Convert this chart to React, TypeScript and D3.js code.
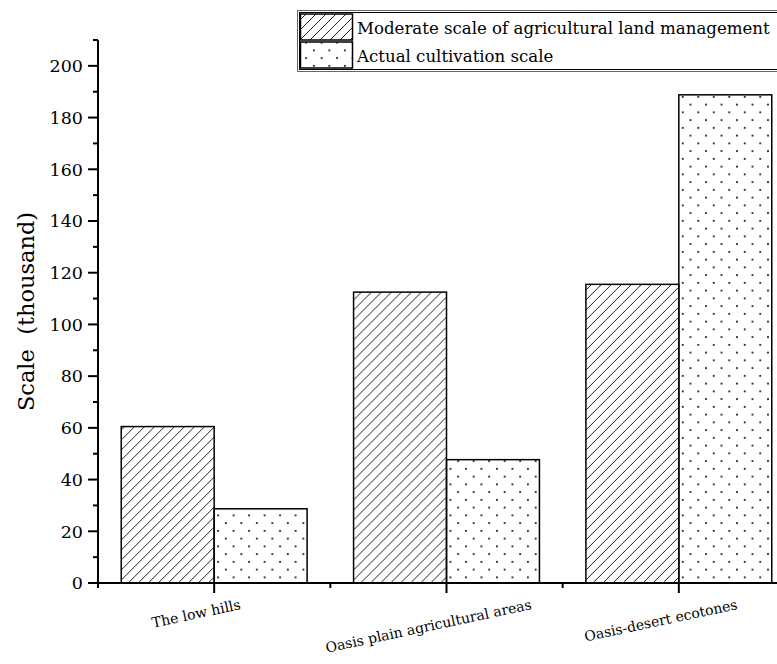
import React, { useEffect, useRef } from 'react';
import * as d3 from 'd3';

// categories along the x axis
const categories = ['The low hills', 'Oasis plain agricultural areas', 'Oasis-desert ecotones'];
// series names (legend order)
const seriesNames = ['Moderate scale of agricultural land management', 'Actual cultivation scale'];
// values in thousand
const moderateScale = [60.5, 112.5, 115.5];
const actualScale = [28.7, 47.7, 188.8];
const yTicks = [0, 20, 40, 60, 80, 100, 120, 140, 160, 180, 200];
const yMinorTicks = [10, 30, 50, 70, 90, 110, 130, 150, 170, 190, 210];

const FONT = '"DejaVu Serif", serif';

const App: React.FC = () => {
  const svgRef = useRef<SVGSVGElement>(null);

  useEffect(() => {
    if (!svgRef.current) return;
    const width = 777;

    const svg = d3.select(svgRef.current);
    svg.selectAll('*').remove();

    // --- patterns ---
    const defs = svg.append('defs');
    const hatch = defs.append('pattern')
      .attr('id', 'hatch').attr('patternUnits', 'userSpaceOnUse')
      .attr('width', 10).attr('height', 10);
    hatch.append('path')
      .attr('d', 'M0,10 L10,0 M-2.5,2.5 L2.5,-2.5 M7.5,12.5 L12.5,7.5')
      .attr('stroke', '#222').attr('stroke-width', 1);

    const dots = defs.append('pattern')
      .attr('id', 'dots').attr('patternUnits', 'userSpaceOnUse')
      .attr('width', 15.5).attr('height', 15.5);
    dots.append('rect').attr('x', 3).attr('y', 3).attr('width', 1.7).attr('height', 1.7).attr('fill', '#000');
    dots.append('rect').attr('x', 10.75).attr('y', 10.75).attr('width', 1.7).attr('height', 1.7).attr('fill', '#000');

    const fills = ['url(#hatch)', 'url(#dots)'];

    // --- scales ---
    const x = d3.scaleBand<string>().domain(categories).range([98, 795]).paddingInner(0.2).paddingOuter(0.1);
    const xSub = d3.scaleBand<string>().domain(seriesNames).range([0, x.bandwidth()]).padding(0);
    const y = d3.scaleLinear().domain([0, 210]).range([583, 40]);

    const rows = categories.map((c, i) => ({ cat: c, values: [moderateScale[i], actualScale[i]] }));

    // --- bars ---
    const groups = svg.append('g').selectAll('g').data(rows).join('g')
      .attr('transform', d => `translate(${x(d.cat)},0)`);
    groups.selectAll('rect')
      .data(d => d.values.map((v, k) => ({ v, k })))
      .join('rect')
      .attr('x', d => xSub(seriesNames[d.k])!)
      .attr('y', d => y(d.v))
      .attr('width', xSub.bandwidth())
      .attr('height', d => y(0) - y(d.v))
      .attr('fill', d => fills[d.k])
      .attr('stroke', '#000').attr('stroke-width', 1.5);

    // --- y axis ---
    const yAxis = svg.append('g').attr('transform', 'translate(98,0)');
    yAxis.append('line').attr('x1', 0).attr('x2', 0).attr('y1', y(210)).attr('y2', y(0) + 5)
      .attr('stroke', '#000').attr('stroke-width', 2);
    yAxis.selectAll('.major').data(yTicks).join('line')
      .attr('x1', -10).attr('x2', 0).attr('y1', d => y(d)).attr('y2', d => y(d))
      .attr('stroke', '#000').attr('stroke-width', 2);
    yAxis.selectAll('.minor').data(yMinorTicks).join('line')
      .attr('x1', -5).attr('x2', 0).attr('y1', d => y(d)).attr('y2', d => y(d))
      .attr('stroke', '#000').attr('stroke-width', 2);
    yAxis.selectAll('text').data(yTicks).join('text')
      .attr('x', -15).attr('y', d => y(d)).attr('dy', '0.36em')
      .attr('text-anchor', 'end').attr('font-family', FONT).attr('font-size', 17.5)
      .text(d => d);

    svg.append('text')
      .attr('transform', `translate(34,${y(105)}) rotate(-90)`)
      .attr('text-anchor', 'middle').attr('font-family', FONT).attr('font-size', 22.5)
      .style('white-space', 'pre')
      .text('Scale  (thousand)');

    // --- x axis ---
    const xAxis = svg.append('g').attr('transform', `translate(0,${y(0)})`);
    xAxis.append('line').attr('x1', 88).attr('x2', width + 20).attr('y1', 0).attr('y2', 0)
      .attr('stroke', '#000').attr('stroke-width', 2);
    xAxis.selectAll('.major').data(categories).join('line')
      .attr('x1', d => x(d)! + x.bandwidth() / 2).attr('x2', d => x(d)! + x.bandwidth() / 2)
      .attr('y1', 0).attr('y2', 10)
      .attr('stroke', '#000').attr('stroke-width', 2);
    const step = x.step();
    const minorX = categories.slice(1).map(c => x(c)! - (step - x.bandwidth()) / 2);
    xAxis.selectAll('.minor').data(minorX).join('line')
      .attr('x1', d => d).attr('x2', d => d).attr('y1', 0).attr('y2', 5)
      .attr('stroke', '#000').attr('stroke-width', 2);

    // rotated labels: right ends sit on one line, centres a bit left of the tick
    const angle = -12;
    const rad = (angle * Math.PI) / 180;
    xAxis.selectAll('text').data(categories).join('text')
      .attr('text-anchor', 'end').attr('font-family', FONT).attr('font-size', 14)
      .text(d => d)
      .attr('transform', function (d) {
        const len = (this as SVGTextElement).getComputedTextLength();
        const cx = x(d)! + x.bandwidth() / 2 - 17;
        return `translate(${cx + (len / 2) * Math.cos(rad)},26) rotate(${angle})`;
      });

    // --- legend ---
    const lg = svg.append('g');
    lg.append('rect').attr('x', 297.5).attr('y', 10.5).attr('width', 500).attr('height', 61)
      .attr('fill', '#fff').attr('stroke', '#666').attr('stroke-width', 1);
    lg.append('rect').attr('x', 299.5).attr('y', 12.5).attr('width', 500).attr('height', 57)
      .attr('fill', 'none').attr('stroke', '#000').attr('stroke-width', 1);
    seriesNames.forEach((name, k) => {
      const top = 14 + k * 28;
      lg.append('rect').attr('x', 300.5).attr('y', top).attr('width', 52).attr('height', 26)
        .attr('fill', fills[k]).attr('stroke', '#000').attr('stroke-width', 1.5);
      lg.append('text').attr('x', 357).attr('y', top + 20)
        .attr('font-family', FONT).attr('font-size', 16.6)
        .text(name);
    });
  }, []);

  return (
    <svg ref={svgRef} width={777} height={664}
      style={{ position: 'absolute', left: 0, top: 0, background: '#fff' }} />
  );
};

export default App;
